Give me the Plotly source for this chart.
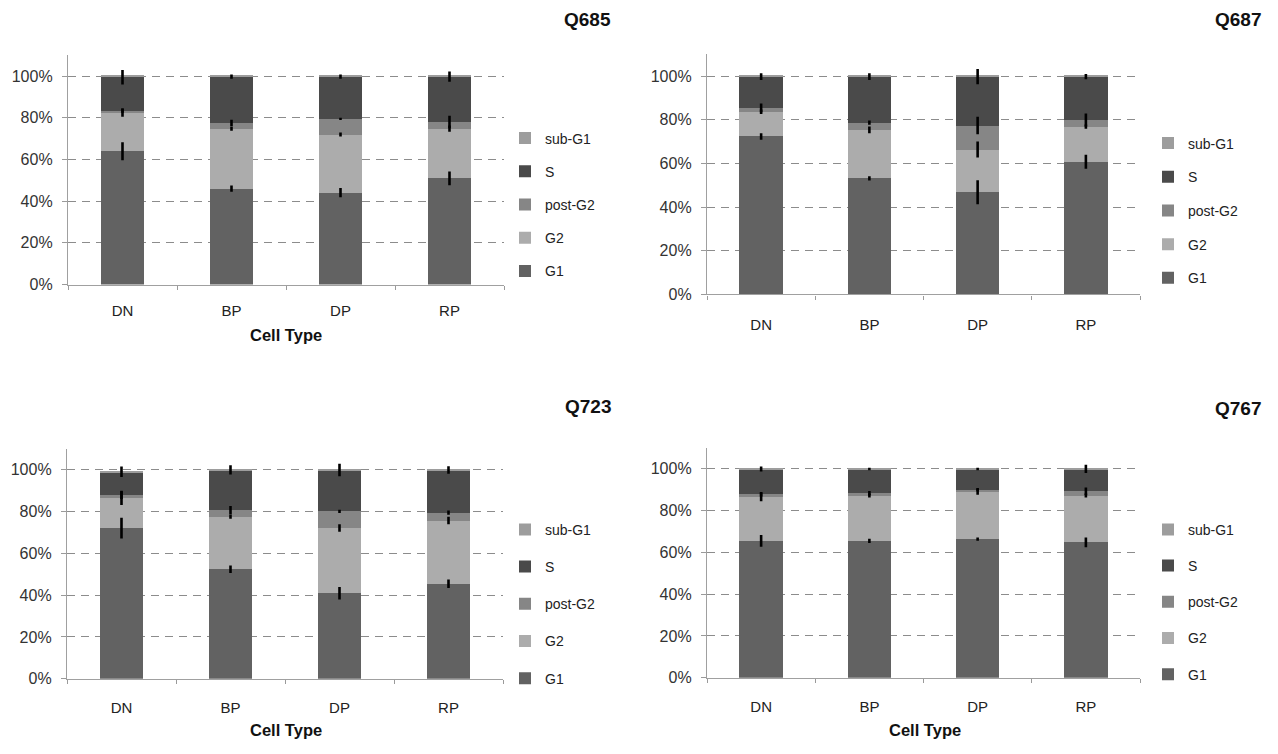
import numpy as np
import plotly.graph_objects as go

# ---- data -------------------------------------------------------------
cell_types = ["DN", "BP", "DP", "RP"]
phases = ["G1", "G2", "post-G2", "S", "sub-G1"]
panel_names = ["Q685", "Q687", "Q723", "Q767"]

# percentage of cells in each phase (DN, BP, DP, RP)
q685_g1 = [64.0, 46.0, 44.1, 50.9]
q685_g2 = [18.5, 28.8, 27.9, 23.9]
q685_postg2 = [1.0, 2.8, 7.5, 3.2]
q685_s = [16.0, 22.2, 20.3, 21.8]
q685_subg1 = [0.5, 0.2, 0.2, 0.2]

q687_g1 = [72.4, 53.2, 46.8, 60.8]
q687_g2 = [11.3, 22.2, 19.6, 16.1]
q687_postg2 = [1.8, 3.3, 11.0, 3.0]
q687_s = [14.3, 21.1, 22.4, 19.9]
q687_subg1 = [0.2, 0.2, 0.2, 0.2]

q723_g1 = [72.0, 52.3, 40.9, 45.4]
q723_g2 = [14.3, 25.2, 31.2, 30.2]
q723_postg2 = [1.6, 3.1, 7.9, 3.8]
q723_s = [11.0, 19.2, 19.8, 20.4]
q723_subg1 = [0.2, 0.2, 0.2, 0.2]

q767_g1 = [65.4, 65.4, 66.3, 64.7]
q767_g2 = [21.2, 21.7, 22.7, 22.4]
q767_postg2 = [1.0, 1.1, 0.9, 2.0]
q767_s = [12.2, 11.6, 9.9, 10.7]
q767_subg1 = [0.2, 0.2, 0.2, 0.2]

# standard errors (G1, G2, post-G2, S) per cell type
q685_err_g1 = [4.3, 1.5, 2.2, 3.3]
q685_err_g2 = [2.0, 1.0, 1.0, 1.5]
q685_err_postg2 = [1.0, 1.5, 0.5, 3.0]
q685_err_s = [3.5, 1.0, 1.0, 2.5]

q687_err_g1 = [1.5, 1.0, 5.5, 3.2]
q687_err_g2 = [1.0, 1.5, 3.7, 1.0]
q687_err_postg2 = [2.0, 1.0, 4.0, 3.0]
q687_err_s = [1.5, 1.5, 3.5, 1.2]

q723_err_g1 = [5.0, 1.8, 3.0, 2.0]
q723_err_g2 = [3.3, 1.0, 1.8, 1.8]
q723_err_postg2 = [2.0, 2.0, 0.8, 1.0]
q723_err_s = [2.5, 2.2, 3.0, 1.8]

q767_err_g1 = [2.8, 1.0, 0.8, 2.3]
q767_err_g2 = [2.2, 1.0, 1.5, 1.0]
q767_err_postg2 = [1.0, 1.0, 0.8, 1.8]
q767_err_s = [1.2, 0.6, 0.6, 2.0]

panel_values = [
    [q685_g1, q685_g2, q685_postg2, q685_s, q685_subg1],
    [q687_g1, q687_g2, q687_postg2, q687_s, q687_subg1],
    [q723_g1, q723_g2, q723_postg2, q723_s, q723_subg1],
    [q767_g1, q767_g2, q767_postg2, q767_s, q767_subg1],
]
panel_errors = [
    [q685_err_g1, q685_err_g2, q685_err_postg2, q685_err_s],
    [q687_err_g1, q687_err_g2, q687_err_postg2, q687_err_s],
    [q723_err_g1, q723_err_g2, q723_err_postg2, q723_err_s],
    [q767_err_g1, q767_err_g2, q767_err_postg2, q767_err_s],
]

y_ticks = [0, 20, 40, 60, 80, 100]
y_tick_labels = ["0%", "20%", "40%", "60%", "80%", "100%"]

# ---- styling ----------------------------------------------------------
W, H = 1278, 754
FONT = "Liberation Sans, Arial, Helvetica, sans-serif"
phase_colors = {
    "G1": "#626262",
    "G2": "#acacac",
    "post-G2": "#868686",
    "S": "#4a4a4a",
    "sub-G1": "#9d9d9d",
}
# legend lists the top of the stack first
legend_rank = {"sub-G1": 1, "S": 2, "post-G2": 3, "G2": 4, "G1": 5}

# plot boxes in pixels: (left, right, top, bottom)
boxes = [
    (68, 504, 56, 288),
    (707, 1140, 55, 298),
    (67, 503, 454, 687),
    (707, 1140, 453, 686),
]
legend_tops = [124, 129, 520, 520]
legend_left = [505, 1148, 505, 1148]
legend_gap = [12, 12.5, 16, 15]
x_label_standoff = [12, 16, 15, 15]
titles_pos = [(613, 20), (1263, 20), (613, 411), (1263, 413)]
xlabel_pos = [(286, 339), None, (286, 739), (925, 739)]

fig = go.Figure()

for k, name in enumerate(panel_names):
    sfx = "" if k == 0 else str(k + 1)
    xa, ya, lg = "x" + sfx, "y" + sfx, "legend" + sfx
    values = panel_values[k]

    for phase, vals in zip(phases, values):
        fig.add_trace(go.Bar(
            x=cell_types, y=vals, name=phase,
            marker=dict(color=phase_colors[phase], line=dict(width=0)),
            xaxis=xa, yaxis=ya, legend=lg,
            legendgroup=f"{name}-{phase}",
            legendrank=legend_rank[phase],
            hovertemplate=f"{phase}: %{{y:.1f}}%<extra>{name}</extra>",
        ))

    # error bars sit at the top of each stacked segment, drawn above all bars
    tops = np.cumsum(np.array(values[:4]), axis=0)
    errs = np.array(panel_errors[k])
    fig.add_trace(go.Scatter(
        x=cell_types * 4, y=tops.flatten().tolist(),
        mode="markers", marker=dict(size=1, opacity=0),
        error_y=dict(type="data", array=errs.flatten().tolist(),
                     width=0, thickness=2.6, color="#000000"),
        showlegend=False, hoverinfo="skip",
        xaxis=xa, yaxis=ya,
    ))

    l, r, t, b = boxes[k]
    fig.layout["xaxis" + sfx] = dict(
        domain=[l / W, r / W], anchor=ya, type="category",
        range=[-0.5, 3.5], tickson="boundaries",
        ticks="outside", ticklen=4, tickcolor="#9a9a9a", tickwidth=1,
        ticklabelstandoff=x_label_standoff[k],
        showline=True, linecolor="#a0a0a0", linewidth=1.3,
        showgrid=False, zeroline=False,
        tickfont=dict(size=15, color="#222222", family=FONT),
        fixedrange=True,
    )
    fig.layout["yaxis" + sfx] = dict(
        domain=[1 - b / H, 1 - t / H], anchor=xa,
        range=[0, 110], tickmode="array",
        tickvals=y_ticks, ticktext=y_tick_labels,
        showgrid=True, gridcolor="#8c8c8c", gridwidth=1.2,
        griddash="8px,6px", zeroline=False,
        showline=True, linecolor="#a0a0a0", linewidth=1.3,
        ticks="outside", ticklen=5, tickcolor="#9a9a9a",
        ticklabelstandoff=6,
        tickfont=dict(size=16, color="#333333", family=FONT),
        fixedrange=True,
    )
    fig.layout[lg] = dict(
        x=legend_left[k] / W, y=1 - legend_tops[k] / H,
        xanchor="left", yanchor="top",
        traceorder="grouped", tracegroupgap=legend_gap[k],
        bgcolor="rgba(0,0,0,0)", borderwidth=0,
        font=dict(size=14, color="#222222", family=FONT),
    )

    tx, ty = titles_pos[k]
    fig.add_annotation(
        x=tx / W, y=1 - ty / H, xref="paper", yref="paper",
        text=f"<b>{name}</b>", showarrow=False,
        xanchor="right", yanchor="middle",
        font=dict(size=19, color="#111111", family=FONT),
    )
    if xlabel_pos[k] is not None:
        lx, ly = xlabel_pos[k]
        fig.add_annotation(
            x=lx / W, y=1 - ly / H, xref="paper", yref="paper",
            text="<b>Cell Type</b>", showarrow=False,
            xanchor="center", yanchor="middle",
            font=dict(size=16.5, color="#111111", family=FONT),
        )

fig.update_layout(
    width=W, height=H,
    margin=dict(l=0, r=0, t=0, b=0),
    barmode="stack", bargap=0.6,
    paper_bgcolor="white", plot_bgcolor="white",
    font=dict(family=FONT, color="#222222"),
    showlegend=True,
)

fig.write_html("out.html", config={"displayModeBar": False})
